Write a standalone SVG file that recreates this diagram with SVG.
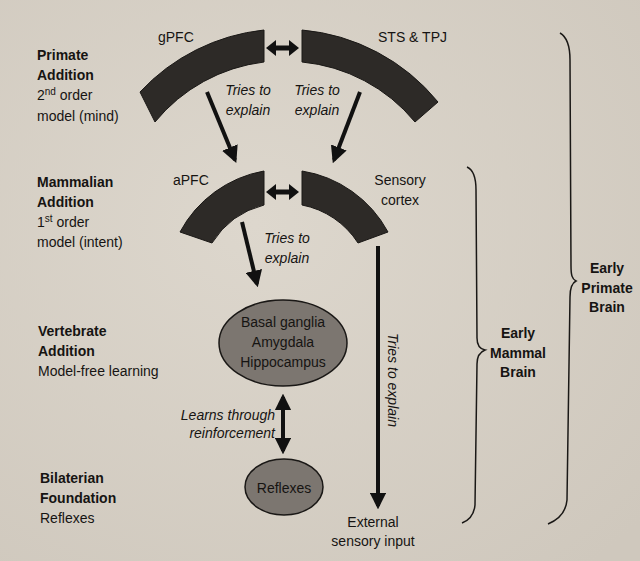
<svg xmlns="http://www.w3.org/2000/svg" width="640" height="561" viewBox="0 0 640 561">
<defs>
<marker id="ah" viewBox="0 0 10 10" refX="8" refY="5" markerWidth="4.2" markerHeight="4.2" orient="auto-start-reverse"><path d="M0,0 L10,5 L0,10 Z" fill="#111"/></marker>
<radialGradient id="bg" cx="0.4" cy="0.4" r="0.8"><stop offset="0" stop-color="#ddd7cd"/><stop offset="1" stop-color="#cfc8bd"/></radialGradient>
</defs>
<style>
text{font-family:"Liberation Sans",Arial,sans-serif;font-size:14px;fill:#161412}
.b{font-weight:bold}
.i{font-style:italic}
.m{text-anchor:middle}
.arc{fill:#2d2a27;stroke:#1a1816;stroke-width:1}
.ell{fill:#7c7670;stroke:#1a1816;stroke-width:1.5}
.ln{stroke:#111;stroke-width:4;fill:none}
.dbl{fill:#111}
.br{stroke:#1a1816;stroke-width:1.5;fill:none}
</style>
<rect width="640" height="561" fill="url(#bg)"/>
<g id="labels-left">
<text x="37" y="60" class="b">Primate</text>
<text x="37" y="80" class="b">Addition</text>
<text x="37" y="100">2<tspan dy="-5" font-size="10">nd</tspan><tspan dy="5"> order</tspan></text>
<text x="37" y="121">model (mind)</text>
<text x="37" y="187" class="b">Mammalian</text>
<text x="37" y="207" class="b">Addition</text>
<text x="37" y="227">1<tspan dy="-5" font-size="10">st</tspan><tspan dy="5"> order</tspan></text>
<text x="37" y="247">model (intent)</text>
<text x="38" y="336" class="b">Vertebrate</text>
<text x="38" y="356" class="b">Addition</text>
<text x="38" y="376">Model-free learning</text>
<text x="40" y="483" class="b">Bilaterian</text>
<text x="40" y="503" class="b">Foundation</text>
<text x="40" y="523">Reflexes</text>
</g>
<g id="gPFC">
<path class="arc" d="M264,30 A198,198 0 0 0 140,92 L155,122 A167,167 0 0 1 264,62 Z"/>
<text x="158" y="42">gPFC</text>
</g>
<g id="STS-TPJ">
<path class="arc" d="M302,30 A198,198 0 0 1 438,102 L415,122 A167,167 0 0 0 302,62 Z"/>
<text x="378" y="42">STS &amp; TPJ</text>
</g>
<g id="aPFC">
<path class="arc" d="M264,171 A119,119 0 0 0 180,232 L212,243 A86,86 0 0 1 264,205 Z"/>
<text x="173" y="185">aPFC</text>
</g>
<g id="sensory-cortex">
<path class="arc" d="M302,171 A119,119 0 0 1 388,232 L358,243 A86,86 0 0 0 302,205 Z"/>
<text x="400" y="185" class="m">Sensory</text>
<text x="400" y="205" class="m">cortex</text>
</g>
<g id="limbic">
<ellipse class="ell" cx="283" cy="343" rx="64" ry="43"/>
<text x="283" y="327" class="m">Basal ganglia</text>
<text x="283" y="347" class="m">Amygdala</text>
<text x="283" y="367" class="m">Hippocampus</text>
</g>
<g id="reflexes">
<ellipse class="ell" cx="284" cy="487" rx="39" ry="28"/>
<text x="284" y="493" class="m">Reflexes</text>
</g>
<g id="external">
<text x="373" y="527" class="m">External</text>
<text x="373" y="546" class="m">sensory input</text>
</g>
<g id="connectors">
<polygon class="dbl" points="266,48 276,40 276,45.5 289,45.5 289,40 299,48 289,56 289,50.5 276,50.5 276,56"/>
<polygon class="dbl" points="266,192 276,184 276,189.5 289,189.5 289,184 299,192 289,200 289,194.5 276,194.5 276,200"/>
<line class="ln" x1="207" y1="92" x2="235" y2="160" marker-end="url(#ah)"/>
<line class="ln" x1="360" y1="92" x2="334" y2="160" marker-end="url(#ah)"/>
<line class="ln" x1="242" y1="222" x2="257" y2="284" marker-end="url(#ah)"/>
<line class="ln" x1="378" y1="246" x2="378" y2="506" marker-end="url(#ah)"/>
<line class="ln" x1="283" y1="397" x2="283" y2="451" marker-start="url(#ah)" marker-end="url(#ah)"/>
<text x="248" y="95" class="i m">Tries to</text>
<text x="248" y="115" class="i m">explain</text>
<text x="317" y="95" class="i m">Tries to</text>
<text x="317" y="115" class="i m">explain</text>
<text x="287" y="243" class="i m">Tries to</text>
<text x="287" y="263" class="i m">explain</text>
<text transform="translate(388,380) rotate(90)" class="i m">Tries to explain</text>
<text x="275" y="420" class="i" text-anchor="end">Learns through</text>
<text x="275" y="438" class="i" text-anchor="end">reinforcement</text>
</g>
<g id="braces">
<path class="br" d="M467,167 C474,170 476,178 476,190 L477,338 C477,346 480,349 485,350 C480,352 477,356 477,364 L475,505 C474,515 470,520 462,523"/>
<path class="br" d="M560,33 C567,37 570,45 570,60 L571,266 C571,275 572,279 576,281 C572,283 570,288 570,297 L567,500 C566,512 560,519 548,524"/>
<text x="518" y="338" class="b m">Early</text>
<text x="518" y="358" class="b m">Mammal</text>
<text x="518" y="377" class="b m">Brain</text>
<text x="607" y="273" class="b m">Early</text>
<text x="607" y="293" class="b m">Primate</text>
<text x="607" y="312" class="b m">Brain</text>
</g>
</svg>
